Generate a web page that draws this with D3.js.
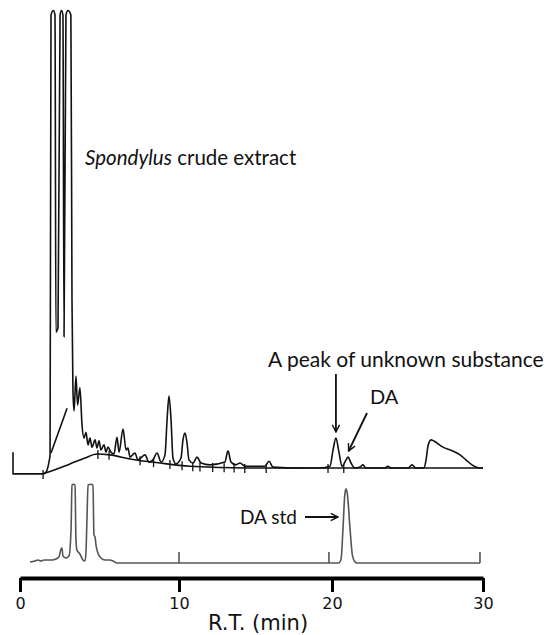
<!DOCTYPE html>
<html>
<head>
<meta charset="utf-8">
<script src="https://cdn.jsdelivr.net/npm/d3@7"></script>
<style>
  body { margin: 0; background: #fff; }
  svg { display: block; }
</style>
</head>
<body>
<svg width="549" height="635"></svg>
<script>
// crude extract trace (time in min, signal in % of full scale)
var crudeT = [1.45, 1.64, 1.82, 1.89, 1.95, 2.1, 2.2, 2.26, 2.39, 2.52, 2.61, 2.7, 2.77, 2.89, 3.02, 3.2, 3.27, 3.33,
  3.4, 3.52, 3.62, 3.77, 3.9, 4.03, 4.15, 4.28, 4.4, 4.53, 4.72, 4.84, 4.97, 5.09, 5.28, 5.41, 5.53, 5.72, 5.91,
  6.1, 6.23, 6.48, 6.67, 6.79, 6.92, 7.23, 7.42, 7.86, 8.11, 8.36, 8.62, 8.87,
  9.12, 9.25, 9.37, 9.5, 9.62, 9.81, 10.13, 10.26, 10.39, 10.52, 10.65, 10.92, 11.18, 11.44, 12.03,
  13.0, 13.2, 13.4, 13.72, 13.99, 14.31, 15.62, 15.88, 16.14, 17.9, 19.22,
  19.87, 20.07, 20.26, 20.46, 20.66, 20.93, 21.06, 21.26, 21.52, 21.85, 22.05, 22.25, 23.51, 23.7, 23.9,
  25.03, 25.3, 25.56, 26.09, 26.23, 26.36, 26.56, 26.75, 27.35, 27.95, 28.48, 28.87, 29.27, 29.8, 30];
var crudeS = [-1.3, -0.9, 1.3, 2.9, 100, 101, 100, 30, 31, 100, 101, 100, 29, 100, 101, 100, 37, 17,
  12.6, 20.3, 13.9, 17.7, 9.5, 6.6, 7.9, 5.1, 6.6, 4.6, 6.2, 4.4, 6.0, 4.0, 5.1, 3.5, 4.6, 3.5, 3.1,
  6.8, 3.5, 8.6, 4.0, 4.4, 2.4, 3.3, 1.8, 2.9, 1.3, 1.8, 3.3, 1.3,
  2.9, 10.6, 15.9, 10.6, 2.2, 0.9, 2.2, 6.2, 7.7, 5.7, 1.8, 1.1, 2.4, 1.1, 0.7,
  1.3, 3.8, 1.3, 0.7, 1.1, 0.4, 0.4, 1.5, 0.2, 0, 0,
  0.4, 4.0, 6.6, 3.5, 0.4, 1.8, 2.4, 1.1, 0, 0.2, 0.7, 0, 0, 0.4, 0,
  0, 0.7, 0, 0, 1.8, 4.9, 6.2, 5.96, 4.6, 3.8, 2.9, 1.8, 0.7, 0, 0];

// pen start mark and integrator baselines
var penT = [-0.44, -0.44, 1.45];
var penS = [3.5, -1.3, -1.3];
var humpT = [1.45, 2.2, 3.14, 4.09, 4.84, 5.66, 6.92, 8.8, 10.7, 14.5, 30];
var humpS = [-1.3, -0.4, 0.9, 2.2, 3.1, 2.9, 2.0, 1.1, 0.4, 0, 0];
var slopeT = [1.95, 2.96];
var slopeS = [3.3, 13.2];
var eventT = [1.45, 4.9, 5.6, 7.55, 8.4, 9.43, 10.2, 10.9, 11.37, 12.2, 12.95, 13.6, 14.3, 15.7, 19.74, 20.78];

// DA standard trace
var stdT = [0.63, 0.94, 1.13, 1.32, 1.51, 1.76, 2.01, 2.26, 2.45, 2.58, 2.64, 2.7, 2.89, 3.08, 3.21, 3.27, 3.36, 3.46,
  3.52, 3.58, 3.77, 3.96, 4.09, 4.15, 4.21, 4.28, 4.47, 4.59, 4.65, 4.72, 4.78, 4.9, 5.09, 5.35, 5.66, 5.85, 6.1,
  20.45, 20.6, 20.73, 20.85, 20.93, 21.02, 21.19, 21.35, 21.5, 21.66, 29.8];
var stdS = [1.3, 2.6, 3.8, 2.6, 3.8, 3.8, 3.8, 5.1, 7.7, 17.9, 19.2, 9, 6.4, 9, 42, 100, 101, 100,
  29.5, 16.7, 11.5, 3.8, 2.6, 14, 55, 100, 101, 100, 36, 33.3, 23, 12.8, 6.4, 3.8, 3.8, 2.6, 0,
  0, 5, 45, 88, 95, 88, 45, 10, 2, 0, 0];
var injectT = [10, 19.8, 29.8];

var tickValues = [0, 10, 20, 30];

var svg = d3.select("svg");

var x = d3.scaleLinear().domain([0, 10, 20, 30]).range([20, 179, 332, 483]);
var yTop = d3.scaleLinear().domain([0, 100]).range([468, 15]);
var yStd = d3.scaleLinear().domain([0, 100]).range([563, 485]);

function pairs(t, s) { return t.map(function(d, i) { return [d, s[i]]; }); }

var lineTop = d3.line()
  .x(function(d) { return x(d[0]); })
  .y(function(d) { return yTop(d[1]); })
  .curve(d3.curveMonotoneX);
var lineStd = d3.line()
  .x(function(d) { return x(d[0]); })
  .y(function(d) { return yStd(d[1]); })
  .curve(d3.curveMonotoneX);

// top chromatogram
var gTop = svg.append("g")
  .attr("fill", "none")
  .attr("stroke", "#111")
  .attr("stroke-width", 1.6)
  .attr("stroke-linejoin", "round");

gTop.append("path").attr("d", lineTop.curve(d3.curveLinear)(pairs(penT, penS)));
gTop.append("path").attr("d", lineTop.curve(d3.curveMonotoneX)(pairs(humpT, humpS)));
gTop.append("path").attr("d", lineTop.curve(d3.curveLinear)(pairs(slopeT, slopeS)));
gTop.append("path").attr("d", lineTop.curve(d3.curveMonotoneX)(pairs(crudeT, crudeS)));

var humpAt = d3.scaleLinear().domain(humpT).range(humpS);
gTop.selectAll(".evt")
  .data(eventT)
  .enter().append("line")
  .attr("x1", function(d) { return x(d); })
  .attr("x2", function(d) { return x(d); })
  .attr("y1", function(d) { return yTop(humpAt(d)) - 4; })
  .attr("y2", function(d) { return yTop(humpAt(d)) + 5; })
  .attr("stroke-width", 1.3);

// standard chromatogram
var gStd = svg.append("g")
  .attr("fill", "none")
  .attr("stroke", "#555")
  .attr("stroke-width", 1.6)
  .attr("stroke-linejoin", "round");

gStd.append("path").attr("d", lineStd(pairs(stdT, stdS)));
gStd.selectAll(".inj")
  .data(injectT)
  .enter().append("line")
  .attr("x1", function(d) { return x(d); })
  .attr("x2", function(d) { return x(d); })
  .attr("y1", yStd(0))
  .attr("y2", yStd(14));

// x axis
var axis = svg.append("g")
  .attr("transform", "translate(0,578)")
  .call(d3.axisBottom(x).tickValues(tickValues).tickSize(14).tickSizeOuter(0).tickPadding(6));
axis.select(".domain").attr("stroke", "#000").attr("stroke-width", 4);
axis.selectAll(".tick line").attr("stroke", "#000").attr("stroke-width", 3);
axis.selectAll(".tick text")
  .attr("fill", "#111")
  .style("font-family", "DejaVu Sans")
  .style("font-size", "16px");

svg.append("text")
  .attr("x", 258)
  .attr("y", 630)
  .attr("text-anchor", "middle")
  .style("font-family", "DejaVu Sans")
  .style("font-size", "21px")
  .attr("fill", "#111")
  .text("R.T. (min)");

// annotations
var defs = svg.append("defs");
defs.append("marker")
  .attr("id", "chev")
  .attr("viewBox", "0 0 10 10")
  .attr("refX", 9).attr("refY", 5)
  .attr("markerWidth", 9).attr("markerHeight", 9)
  .attr("markerUnits", "userSpaceOnUse")
  .attr("orient", "auto")
  .append("path")
  .attr("d", "M1,1 L9,5 L1,9")
  .attr("fill", "none")
  .attr("stroke", "#111")
  .attr("stroke-width", 1.6);

function arrow(x1, y1, x2, y2) {
  svg.append("line")
    .attr("x1", x1).attr("y1", y1).attr("x2", x2).attr("y2", y2)
    .attr("stroke", "#111").attr("stroke-width", 1.8)
    .attr("marker-end", "url(#chev)");
}

var lab = svg.append("g")
  .style("font-family", "Lato, 'Open Sans', sans-serif")
  .attr("fill", "#111");

var sp = lab.append("text").attr("x", 85).attr("y", 165).style("font-size", "20.5px");
sp.append("tspan").style("font-style", "italic").text("Spondylus");
sp.append("tspan").text(" crude extract");

lab.append("text").attr("x", 268).attr("y", 367).style("font-size", "21px")
  .text("A peak of unknown substance");
lab.append("text").attr("x", 370).attr("y", 404).style("font-size", "20px").text("DA");
lab.append("text").attr("x", 240).attr("y", 524).style("font-size", "19px").text("DA std");

arrow(x(20.26), 374, x(20.26), 432);
arrow(367, 413, x(21.1), 451);
arrow(305, 517, 338, 517);
</script>
</body>
</html>
